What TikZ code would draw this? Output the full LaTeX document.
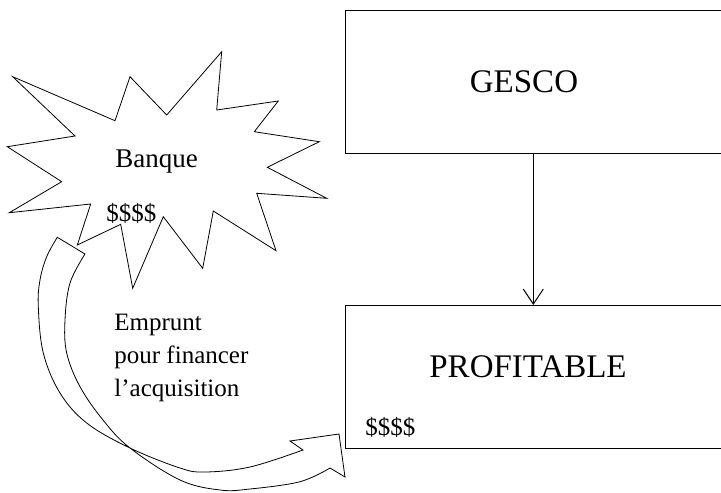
\documentclass[tikz,border=0pt]{standalone}
\usepackage{fontspec}
\setmainfont{Liberation Serif}
\usetikzlibrary{arrows.meta,positioning,calc}

\begin{document}
\begin{tikzpicture}[
  x=1pt, y=-1pt,
  line width=0.8pt,
  panel/.style={draw, line width=1pt, minimum width=420pt, minimum height=143.3pt, anchor=north west, inner sep=0pt},
  title/.style={font=\fontsize{33}{38}\selectfont, anchor=base, inner sep=0pt},
  word/.style={font=\fontsize{27}{32}\selectfont, anchor=base west, inner sep=0pt},
  cash/.style={font=\fontsize{25}{30}\selectfont, anchor=base west, inner sep=0pt},
  note/.style={font=\fontsize{25}{33}\selectfont, anchor=north west, align=left, inner sep=0pt},
  flow/.style={-{Straight Barb[length=15pt,width=20pt]}, line width=1pt}
]
\clip (0,0) rectangle (721,493);

\node[panel] (gesco) at (345,10) {};
\node[panel] (profitable) at (345,305) {};
\node[title] (gescotxt) at (524,92.7) {GESCO};
\node[title] (profitabletxt) at (528,377.7) {PROFITABLE};
\node[cash] (firmcash) at (365,435) {\$\$\$\$};

\draw (12.7,76.7) -- (115,120.7) -- (130,76.7) -- (166.7,115) -- (221.7,51.7)
  -- (216.7,110) -- (278.3,101) -- (254.3,131.7) -- (319.3,141.7) -- (267.3,167.3)
  -- (326.7,198.3) -- (256.7,193.3) -- (276,250.7) -- (213.3,211) -- (202.7,268.3)
  -- (163.3,216.7) -- (132.7,288.3) -- (120.7,224.3) -- (77.3,245) -- (90.7,204)
  -- (9.3,212.7) -- (61.7,181.7) -- (7.3,146.7) -- (75,136) -- cycle;
\node[word] (banque) at (115,167.7) {Banque};
\node[cash] (bankcash) at (106,221) {\$\$\$\$};

\node[note] (loan) at (114,313.3) {Emprunt\\pour financer\\l’acquisition};

\draw plot[smooth, tension=0.6] coordinates {(57.3,237.3) (46.7,256.7) (40,280) (38.3,306.7) (43.3,353) (60,393) (86.7,423) (130,448) (180,468) (205,472) (250,467) (303,450)}
  -- (290,441) -- (339,434) -- (345,477) -- (330,468)
  -- plot[smooth, tension=0.6] coordinates {(330,468) (300,481.7) (250,489) (220,490) (180,480) (130,448) (103,420) (80,386.7) (66.7,353) (65,320) (70,283) (85,254)}
  -- cycle;

\coordinate (drop) at (533.3,0);
\draw[flow] (gesco.south -| drop) -- (profitable.north -| drop);
\end{tikzpicture}
\end{document}
